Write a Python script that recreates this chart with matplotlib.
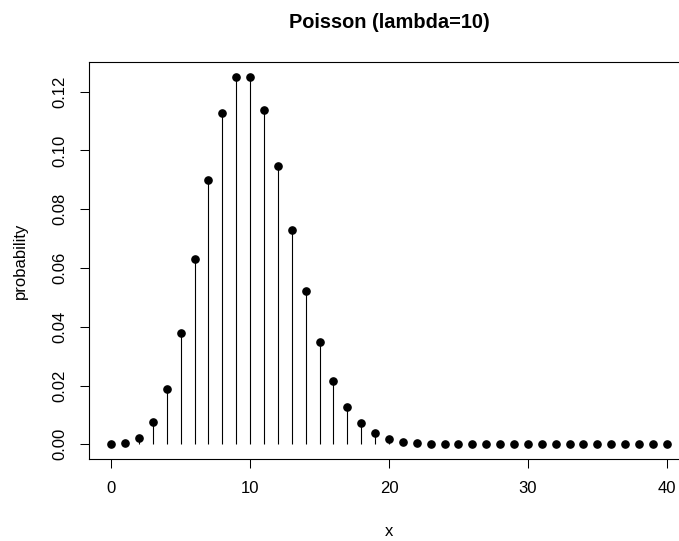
import numpy as np
import matplotlib
matplotlib.use("Agg")
from matplotlib import pyplot as plt

# values
x_vals = list(range(0, 41))
probs = [0.0000, 0.0005, 0.0023, 0.0076, 0.0189, 0.0378, 0.0631, 0.0901,
         0.1126, 0.1251, 0.1251, 0.1137, 0.0948, 0.0729, 0.0521, 0.0347,
         0.0217, 0.0128, 0.0071, 0.0037, 0.0019, 0.0009, 0.0004, 0.0002,
         0.0001, 0.0000, 0.0000, 0.0000, 0.0000, 0.0000, 0.0000, 0.0000,
         0.0000, 0.0000, 0.0000, 0.0000, 0.0000, 0.0000, 0.0000, 0.0000,
         0.0000]
x_ticks = [0, 10, 20, 30, 40]
y_ticks = [0.00, 0.02, 0.04, 0.06, 0.08, 0.10, 0.12]
y_tick_labels = ["0.00", "0.02", "0.04", "0.06", "0.08", "0.10", "0.12"]

plt.rcParams['font.family'] = ['Liberation Sans', 'DejaVu Sans']

W, H = 679, 541
fig = plt.figure(figsize=(W / 100, H / 100), dpi=100)
# plot box runs past the right edge of the image (cropped like the original)
ax = fig.add_axes([89 / W, (H - 459) / H, 600 / W, 397 / H])

ax.vlines(x_vals, 0, probs, color='black', linewidth=0.8)
ax.plot(x_vals, probs, 'o', color='black', markersize=5.2)

ax.set_xlim(-1.6, 41.6)
ax.set_ylim(-0.005, 0.1301)

ax.set_xticks(x_ticks)
ax.set_yticks(y_ticks)
ax.set_yticklabels(y_tick_labels, va='center')
ax.tick_params(axis='both', length=6.5, width=0.75, labelsize=12,
               colors='black', pad=9)
ax.tick_params(axis='y', labelrotation=90)
for lab in ax.get_yticklabels():
    lab.set_va('center')

for s in ax.spines.values():
    s.set_linewidth(0.8)

ax.set_xlabel('x', fontsize=12, va='center')
ax.xaxis.set_label_coords(0.5, (459 - 531) / 397)
ax.set_ylabel('probability', fontsize=12, va='center')
ax.yaxis.set_label_coords((20 - 89) / 600, 0.5)

fig.text(389 / W, 1 - 22 / H, 'Poisson (lambda=10)', ha='center', va='center',
         fontsize=14.4, fontweight='bold')

fig.savefig('out.png', dpi=100)
